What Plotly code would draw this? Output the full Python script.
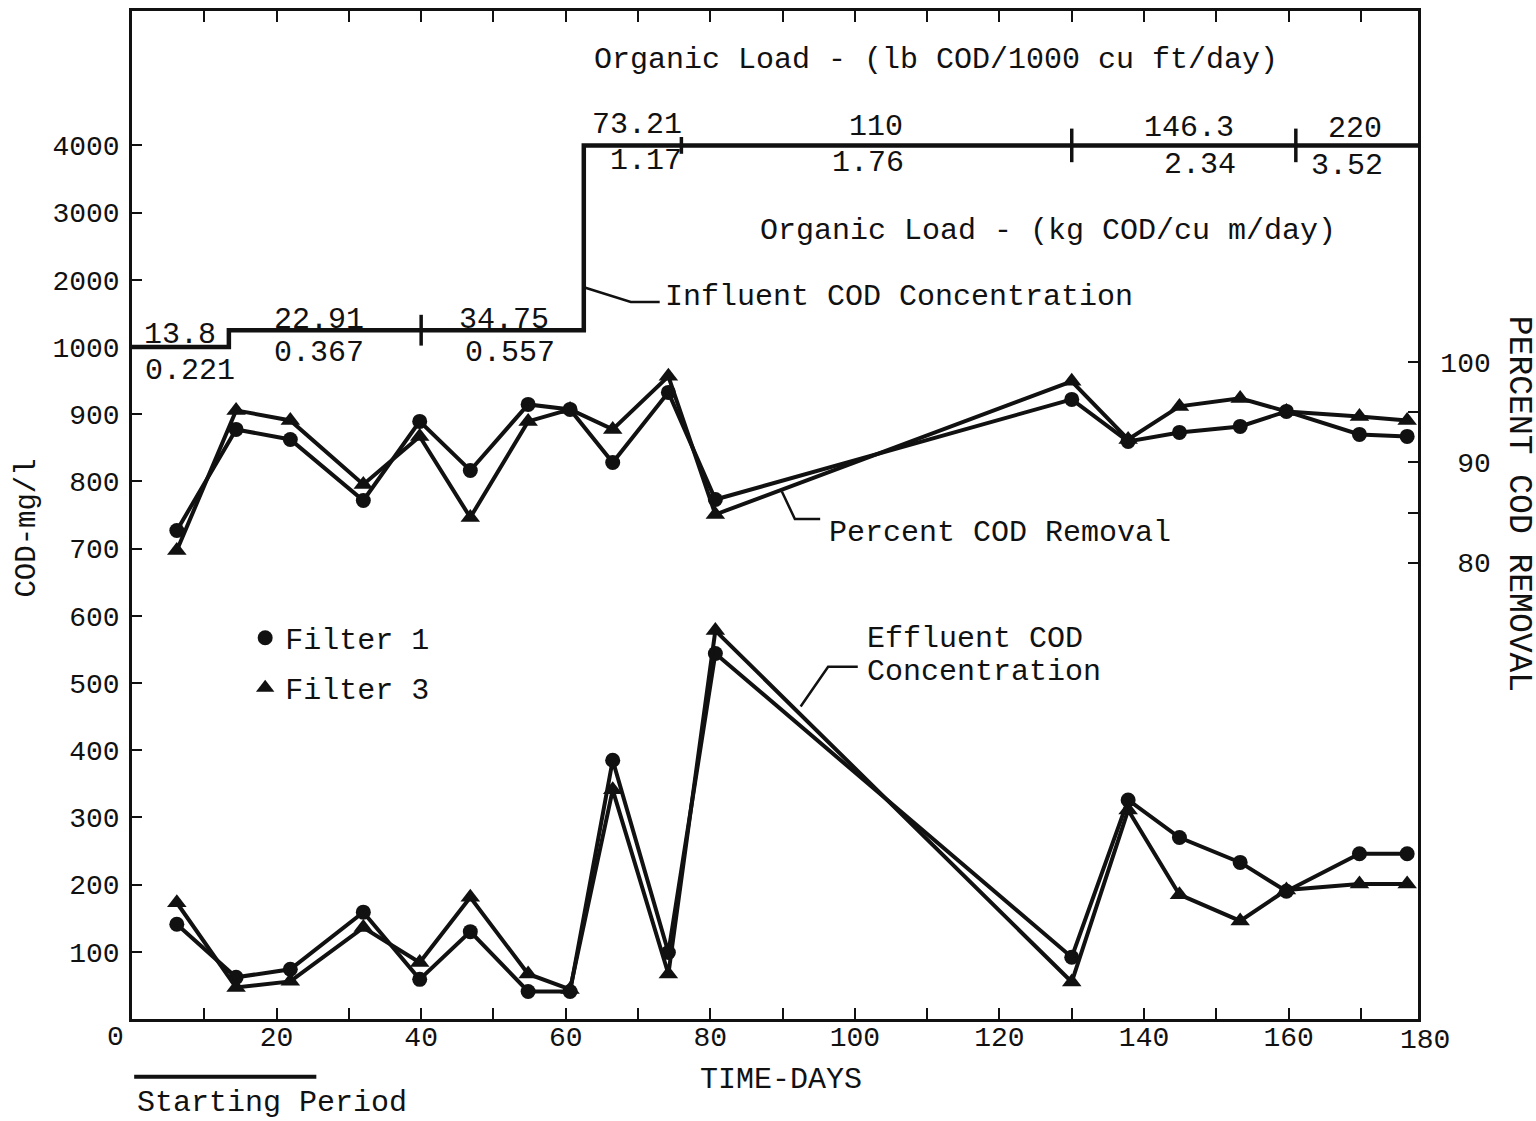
import plotly.graph_objects as go

# ---------------- data ----------------
days = [6.2, 14.4, 21.9, 32.0, 39.8, 46.8, 54.8, 60.6, 66.5, 74.2, 80.7,
        130.0, 137.8, 144.9, 153.3, 159.7, 169.8, 176.4]

removal_filter1 = [83.2, 93.3, 92.3, 86.2, 94.1, 89.2, 95.8, 95.3, 90.0, 97.0, 86.3,
                   96.3, 92.1, 93.0, 93.6, 95.1, 92.8, 92.6]
removal_filter3 = [81.2, 95.2, 94.2, 87.8, 92.6, 84.5, 94.1, 95.3, 93.3, 98.6, 84.8,
                   98.1, 92.3, 95.6, 96.4, 95.1, 94.6, 94.2]

effluent_filter1 = [141, 62, 74, 159, 59, 130, 41, 41, 385, 99, 544,
                    92, 326, 270, 233, 190, 246, 246]
effluent_filter3 = [173, 47, 56, 136, 84, 181, 67, 44, 341, 67, 578,
                    55, 311, 185, 146, 192, 201, 201]

influent_days = [0, 13.4, 62.5, 177.9]
influent_cod = [1000, 1250, 4000, 4000]

load_break_days = [40, 76, 130, 161]
load_break_len = [22, 12, 24, 24]

load_lb = ["13.8", "22.91", "34.75", "73.21", "110", "146.3", "220"]
load_kg = ["0.221", "0.367", "0.557", "1.17", "1.76", "2.34", "3.52"]

x_tick_days = [10, 20, 30, 40, 50, 60, 70, 80, 90, 100, 110, 120, 130, 140, 150, 160, 170]
cod_tick_values = [100, 200, 300, 400, 500, 600, 700, 800, 900, 1000, 2000, 3000, 4000]
pct_tick_values = [80, 85, 90, 95, 100]


# broken COD scale: linear 0-1000, then 1000 per step above
def to_axis(v):
    return v if v <= 1000 else 1000 + (v - 1000) / 10.0


def influent_at(d):
    val = influent_cod[0]
    for dd, vv in zip(influent_days, influent_cod):
        if dd <= d:
            val = vv
    return val


FONT = "Liberation Mono"
BLACK = "#111111"

fig = go.Figure()

# Influent step line
fig.add_trace(go.Scatter(
    x=influent_days, y=[to_axis(v) for v in influent_cod],
    mode="lines", line=dict(color=BLACK, width=4.5, shape="hv"),
    showlegend=False, hoverinfo="skip"))

# load period boundary marks on the influent line
for d, ln in zip(load_break_days, load_break_len):
    fig.add_trace(go.Scatter(
        x=[d], y=[to_axis(influent_at(d))], mode="markers",
        marker=dict(symbol="line-ns", size=ln, line=dict(color=BLACK, width=3.5)),
        showlegend=False, hoverinfo="skip"))

# Effluent COD
fig.add_trace(go.Scatter(
    x=days, y=effluent_filter1, mode="lines+markers",
    line=dict(color=BLACK, width=4), marker=dict(symbol="circle", size=15, color=BLACK),
    showlegend=False))
fig.add_trace(go.Scatter(
    x=days, y=effluent_filter3, mode="lines+markers",
    line=dict(color=BLACK, width=4), marker=dict(symbol="triangle-up", size=17, color=BLACK),
    showlegend=False))

# Percent removal (right axis)
fig.add_trace(go.Scatter(
    x=days, y=removal_filter1, mode="lines+markers", yaxis="y2",
    line=dict(color=BLACK, width=4), marker=dict(symbol="circle", size=15, color=BLACK),
    showlegend=False))
fig.add_trace(go.Scatter(
    x=days, y=removal_filter3, mode="lines+markers", yaxis="y2",
    line=dict(color=BLACK, width=4), marker=dict(symbol="triangle-up", size=17, color=BLACK),
    showlegend=False))

# legend entries
fig.add_trace(go.Scatter(x=[None], y=[None], mode="markers", name="Filter 1",
                         legendgroup="f1",
                         marker=dict(symbol="circle", size=15, color=BLACK)))
fig.add_trace(go.Scatter(x=[None], y=[None], mode="markers", name="Filter 3",
                         legendgroup="f3",
                         marker=dict(symbol="triangle-up", size=16, color=BLACK)))

annotations = []


def txt(text, x, y, xanchor="center", yanchor="middle", size=30, xref="x", yref="y", angle=0):
    annotations.append(dict(text=text, x=x, y=y, xref=xref, yref=yref,
                            xanchor=xanchor, yanchor=yanchor, showarrow=False,
                            textangle=angle,
                            font=dict(family=FONT, size=size, color=BLACK)))


# organic load labels (lb/1000 cu ft/day above, kg/cu m/day below)
lb_pos = [(6.6, 1018), (25.9, 1040), (51.5, 1040), (69.9, 1330), (102.9, 1327), (146.2, 1326), (169.2, 1324)]
kg_pos = [(8.0, 964), (25.9, 991), (52.3, 991), (71.1, 1277), (101.8, 1274), (147.7, 1271), (168.1, 1270)]
for t, (x, y) in zip(load_lb, lb_pos):
    txt(t, x, y)
for t, (x, y) in zip(load_kg, kg_pos):
    txt(t, x, y)

txt("Organic Load - (lb COD/1000 cu ft/day)", 111.2, 1427)
txt("Organic Load - (kg COD/cu m/day)", 126.7, 1173)
txt("Influent COD Concentration", 73.4, 1074, xanchor="left")
txt("Percent COD Removal", 96.2, 723, xanchor="left")
txt("Effluent COD", 101.4, 566, xanchor="left")
txt("Concentration", 101.4, 516, xanchor="left")

# outside texts
txt("0", -0.0132, -0.0188, xref="paper", yref="paper", size=28)
txt("180", 1.0054, -0.021, xref="paper", yref="paper", size=28)
txt("TIME-DAYS", 0.5047, -0.061, xref="paper", yref="paper")
txt("Starting Period", 0.0023, -0.083, xanchor="left", xref="paper", yref="paper")
txt("COD-mg/l", -0.0816, 0.4866, xref="paper", yref="paper", angle=-90, size=29)
txt("PERCENT COD REMOVAL", 1.0778, 0.511, xref="paper", yref="paper", angle=90, size=33)

shapes = [
    # leader lines
    dict(type="path", path="M 62.5,1089 L 69.0,1067 L 73.0,1067", xref="x", yref="y",
         line=dict(color=BLACK, width=2.5)),
    dict(type="path", path="M 89.9,785 L 91.7,744 L 95.2,744", xref="x", yref="y",
         line=dict(color=BLACK, width=2.5)),
    dict(type="path", path="M 92.5,465 L 96.3,524 L 100.4,524", xref="x", yref="y",
         line=dict(color=BLACK, width=2.5)),
    # starting period bar
    dict(type="line", x0=0.3, x1=25.5, y0=-0.0574, y1=-0.0574, xref="x", yref="paper",
         line=dict(color=BLACK, width=4)),
]

fig.update_layout(
    width=1536, height=1121,
    margin=dict(l=132, r=118, t=8, b=102),
    paper_bgcolor="white", plot_bgcolor="white",
    font=dict(family=FONT, size=28, color=BLACK),
    annotations=annotations, shapes=shapes,
    legend=dict(x=0.088, y=0.404, xanchor="left", yanchor="top",
                font=dict(family=FONT, size=30, color=BLACK),
                bgcolor="rgba(0,0,0,0)", tracegroupgap=8, itemsizing="trace"),
    xaxis=dict(range=[0, 177.9], tickvals=x_tick_days,
               ticktext=[str(d) if d % 20 == 0 else "" for d in x_tick_days],
               ticks="inside", ticklen=11, tickwidth=2, tickcolor=BLACK,
               showline=True, linewidth=2.5, linecolor=BLACK, mirror="ticks",
               showgrid=False, zeroline=False, ticklabelstandoff=-9,
               tickfont=dict(family=FONT, size=28, color=BLACK)),
    yaxis=dict(range=[0, 1500], tickvals=[to_axis(v) for v in cod_tick_values],
               ticktext=[str(v) for v in cod_tick_values],
               ticks="inside", ticklen=10, tickwidth=2, tickcolor=BLACK,
               showline=True, linewidth=2.5, linecolor=BLACK,
               showgrid=False, zeroline=False, ticklabelstandoff=4,
               tickfont=dict(family=FONT, size=28, color=BLACK)),
    yaxis2=dict(range=[34.4, 135.1], overlaying="y", side="right",
                tickvals=pct_tick_values,
                ticktext=["\u00a080", "", "\u00a090", "", "100"],
                ticks="inside", ticklen=10, tickwidth=2, tickcolor=BLACK,
                showline=True, linewidth=2.5, linecolor=BLACK,
                showgrid=False, zeroline=False, ticklabelstandoff=14,
                tickfont=dict(family=FONT, size=28, color=BLACK)),
)

fig.write_html("out.html")
